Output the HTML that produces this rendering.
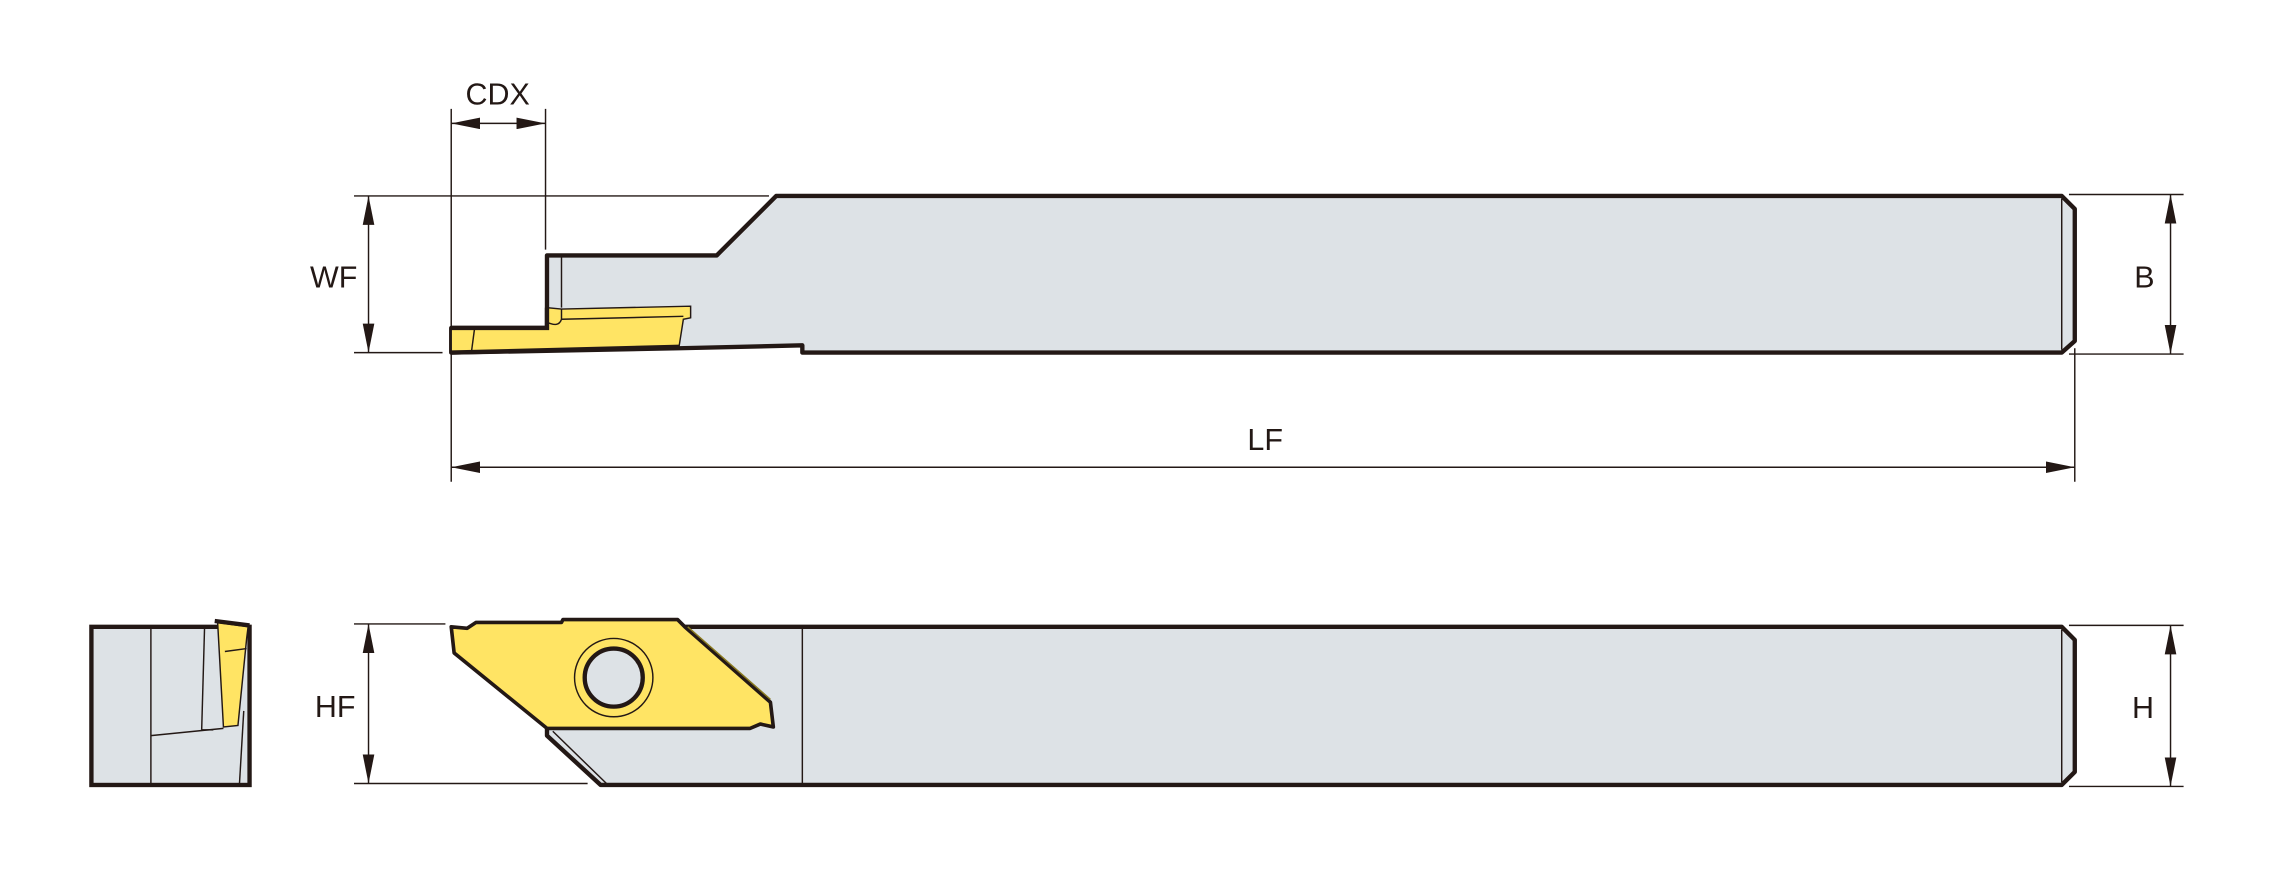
<!DOCTYPE html>
<html><head><meta charset="utf-8"><style>
html,body{margin:0;padding:0;background:#fff}
svg{display:block}
text{font-family:"Liberation Sans",sans-serif;font-size:21px;fill:#231815}
</style></head><body>
<svg width="2275" height="886" viewBox="0 0 1568 610.6" xmlns="http://www.w3.org/2000/svg">
<defs>
<marker id="a" viewBox="0 0 20 8" refX="20" refY="4" markerWidth="20" markerHeight="8" markerUnits="userSpaceOnUse" orient="auto-start-reverse"><path d="M0,0 L20,4 L0,8 z" fill="#231815"/></marker>
</defs>
<g stroke="#231815" stroke-width="1" fill="none">
<!-- extension lines -->
<line x1="311" y1="75" x2="311" y2="332"/>
<line x1="376" y1="75" x2="376" y2="172"/>
<line x1="244" y1="135" x2="530" y2="135"/>
<line x1="244" y1="243" x2="305" y2="243"/>
<line x1="1426" y1="134" x2="1505" y2="134"/>
<line x1="1426" y1="244" x2="1505" y2="244"/>
<line x1="1430" y1="240" x2="1430" y2="332"/>
<line x1="244" y1="430" x2="307" y2="430"/>
<line x1="244" y1="540" x2="405" y2="540"/>
<line x1="1426" y1="431" x2="1505" y2="431"/>
<line x1="1426" y1="542" x2="1505" y2="542"/>
<!-- dim lines -->
<line x1="311" y1="85" x2="376" y2="85" marker-start="url(#a)" marker-end="url(#a)"/>
<line x1="254" y1="135" x2="254" y2="243" marker-start="url(#a)" marker-end="url(#a)"/>
<line x1="1496" y1="134" x2="1496" y2="244" marker-start="url(#a)" marker-end="url(#a)"/>
<line x1="311" y1="322" x2="1430" y2="322" marker-start="url(#a)" marker-end="url(#a)"/>
<line x1="254" y1="430" x2="254" y2="540" marker-start="url(#a)" marker-end="url(#a)"/>
<line x1="1496" y1="431" x2="1496" y2="542" marker-start="url(#a)" marker-end="url(#a)"/>
</g>
<text x="343" y="72" text-anchor="middle">CDX</text>
<text x="230" y="198" text-anchor="middle">WF</text>
<text x="1478" y="198" text-anchor="middle">B</text>
<text x="872" y="310" text-anchor="middle">LF</text>
<text x="231" y="494" text-anchor="middle">HF</text>
<text x="1477" y="495" text-anchor="middle">H</text>

<!-- top view body -->
<path d="M535,135 L1421,135 L1430,144 L1430,235 L1421,243 L553,243 L553,238 L468,240 L311,243 L311,226 L377,226 L377,176 L494,176 Z" fill="#dde2e6" stroke="#231815" stroke-width="3" stroke-linejoin="round"/>
<line x1="1421" y1="137" x2="1421" y2="241" stroke="#231815" stroke-width="1"/>
<line x1="387" y1="177" x2="387" y2="212" stroke="#231815" stroke-width="1"/>
<path d="M311,226 L376,226 L377,212 L387,213 L476,211 L476,219 L471,220 L468,239 L311,243 Z" fill="#ffe464" stroke="#231815" stroke-width="1"/>
<path d="M311,226 L377,226 L377,212" fill="none" stroke="#231815" stroke-width="3"/>
<line x1="311" y1="243" x2="468" y2="239" stroke="#231815" stroke-width="3"/>
<line x1="387" y1="220" x2="471" y2="218" stroke="#231815" stroke-width="1"/>
<line x1="327" y1="227" x2="325" y2="242" stroke="#231815" stroke-width="1"/>
<path d="M377,222 Q385,226 387,220 L387,213" fill="none" stroke="#231815" stroke-width="1"/>

<!-- bottom view body -->
<path d="M470,432 L1421,432 L1430,441 L1430,532 L1421,541 L414,541 L377,507 L377,502 Z" fill="#dde2e6" stroke="#231815" stroke-width="3" stroke-linejoin="round"/>
<line x1="1421" y1="434" x2="1421" y2="539" stroke="#231815" stroke-width="1"/>
<line x1="553" y1="432" x2="553" y2="541" stroke="#231815" stroke-width="1"/>
<line x1="381" y1="504" x2="418" y2="540" stroke="#231815" stroke-width="1"/>
<path d="M311,432 L322,433 L328,429 L387,429 L388,427 L467,427 L472,432 L531,484 L533,501 L524,499 L517,502 L377,502 L313,450 Z" fill="#ffe464" stroke="#231815" stroke-width="2.5" stroke-linejoin="round"/>
<line x1="474" y1="432" x2="531" y2="482" stroke="#8a7a20" stroke-width="1"/>
<circle cx="423" cy="467" r="27" fill="none" stroke="#231815" stroke-width="1"/>
<circle cx="423" cy="467" r="20" fill="#dde2e6" stroke="#231815" stroke-width="3"/>

<!-- end view -->
<rect x="63" y="432" width="109" height="109" fill="#dde2e6" stroke="#231815" stroke-width="3"/>
<line x1="104" y1="432" x2="104" y2="541" stroke="#231815" stroke-width="1"/>
<path d="M150,429 L171,432 L170,440 L164,500 L154,501 Z" fill="#ffe464" stroke="#231815" stroke-width="1"/>
<line x1="155" y1="449" x2="170" y2="447" stroke="#231815" stroke-width="1"/>
<line x1="148" y1="428" x2="172" y2="431" stroke="#231815" stroke-width="3"/>
<line x1="141" y1="432" x2="139" y2="503" stroke="#231815" stroke-width="1"/>
<line x1="104" y1="507" x2="154" y2="502" stroke="#231815" stroke-width="1"/>
<line x1="139" y1="503" x2="147" y2="503" stroke="#231815" stroke-width="1"/>
<line x1="168" y1="490" x2="165" y2="541" stroke="#231815" stroke-width="1"/>
</svg>
</body></html>
